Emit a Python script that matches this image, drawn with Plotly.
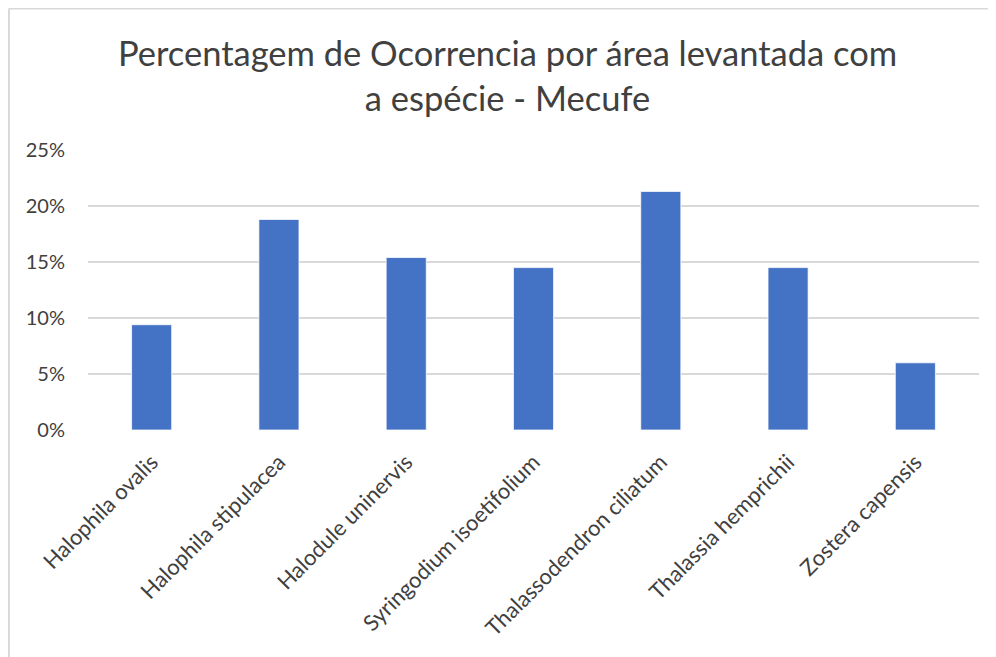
import plotly.graph_objects as go

# ── Data ──────────────────────────────────────────────────────────────────────
species = [
    "Halophila ovalis",
    "Halophila stipulacea",
    "Halodule uninervis",
    "Syringodium isoetifolium",
    "Thalassodendron ciliatum",
    "Thalassia hemprichii",
    "Zostera capensis",
]
occurrence = [0.094, 0.188, 0.154, 0.145, 0.213, 0.145, 0.060]
y_ticks = [0, 0.05, 0.10, 0.15, 0.20, 0.25]

BAR_COLOR = "#4472C4"
TEXT_COLOR = "#404040"
GRID_COLOR = "#d9d9d9"
FONT = "Lato"

fig = go.Figure(go.Bar(
    x=species, y=occurrence,
    marker=dict(color=BAR_COLOR, line=dict(color="white", width=0.75)),
    width=0.315,
    hovertemplate="%{x}: %{y:.1%}<extra></extra>",
))

# chart-area border (left and top edges visible in the reference)
fig.add_shape(type="line", xref="paper", yref="paper",
              x0=-0.0887, x1=-0.0887, y0=-1.0, y1=1.505,
              line=dict(color=GRID_COLOR, width=2))
fig.add_shape(type="line", xref="paper", yref="paper",
              x0=-0.0887, x1=1.05, y0=1.505, y1=1.505,
              line=dict(color=GRID_COLOR, width=2))

fig.update_layout(
    title=dict(text="Percentagem de Ocorrencia por área levantada com<br>a espécie - Mecufe",
               font=dict(size=34.5, color=TEXT_COLOR, family=FONT),
               x=0.5015, xanchor="center", y=0.912, yanchor="middle"),
    xaxis=dict(tickangle=-45, tickfont=dict(size=22, color=TEXT_COLOR, family=FONT),
               showgrid=False, showline=False, ticks="", ticklabelstandoff=14,
               automargin=False),
    yaxis=dict(range=[0, 0.25], tickmode="array", tickvals=y_ticks, tickformat=".0%",
               tickfont=dict(size=20, color=TEXT_COLOR, family=FONT),
               showgrid=True, gridcolor=GRID_COLOR, gridwidth=1.5,
               zeroline=False, showline=False, ticks="", ticklabelstandoff=22,
               automargin=False),
    plot_bgcolor="white", paper_bgcolor="white",
    width=996, height=657, showlegend=False,
    margin=dict(l=80, r=25, t=142, b=235),
)

fig.write_html("out.html")
